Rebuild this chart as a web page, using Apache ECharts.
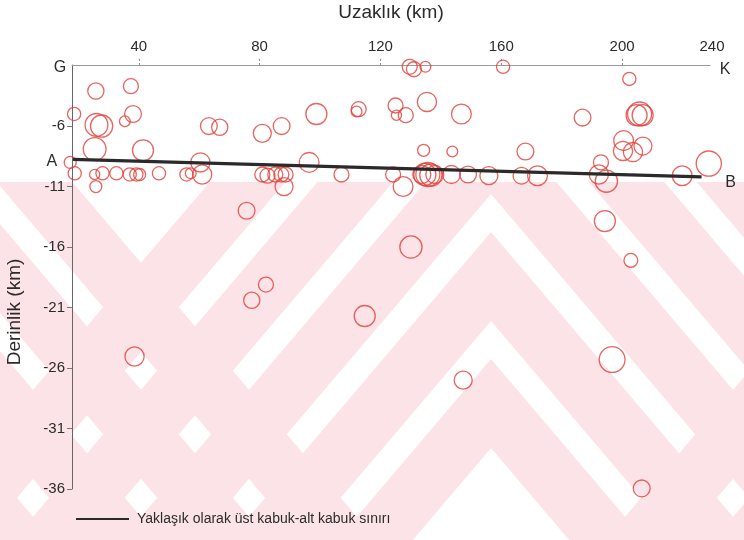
<!DOCTYPE html>
<html>
<head>
<meta charset="utf-8">
<script src="https://cdn.jsdelivr.net/npm/echarts@6/dist/echarts.min.js"></script>
<style>
  html, body { margin: 0; padding: 0; background: #fff; }
  #chart { width: 744px; height: 540px; }
</style>
</head>
<body>
<div id="chart"></div>
<script>
// Hypocentres along the G–K profile: distance (km), depth (km), magnitude
const distance = [
  18.6, 25.8, 37.4, 38.1, 35.4, 26.0, 27.7, 25.4, 41.4, 17.3,
  18.8, 25.4, 28.0, 32.6, 37.0, 39.2, 40.3, 46.7, 55.8, 57.2,
  60.4, 61.0, 25.8,
  63.2, 66.8, 80.9, 87.3, 98.8, 96.4, 80.9, 82.6, 85.2, 87.2,
  88.6, 88.1, 107.1,
  129.7, 131.1, 134.9, 112.8, 112.1, 125.0, 125.3, 128.4, 135.4, 146.8,
  134.3, 143.8, 124.2, 127.5, 133.7, 134.7, 135.7, 136.7, 138.0, 143.5,
  149.0, 155.9, 166.7, 172.0, 160.6, 186.9, 168.0, 193.0, 192.3, 194.8,
  202.4, 204.8, 205.8, 206.8, 200.5, 200.3, 203.6, 206.9, 219.9, 228.7,
  75.7, 194.3, 130.1, 202.9, 82.1, 77.4, 114.8, 38.6, 196.7, 147.4, 206.5
];
const depth = [
  -5.0, -3.1, -2.7, -5.0, -5.6, -5.9, -6.0, -7.9, -8.0, -9.0,
  -9.9, -10.0, -9.9, -9.9, -10.0, -10.0, -10.0, -9.9, -10.0, -9.9,
  -9.0, -10.0, -11.0,
  -6.0, -6.1, -6.6, -6.0, -5.0, -9.0, -10.0, -10.1, -10.0, -10.0,
  -10.0, -11.0, -10.0,
  -1.1, -1.3, -1.1, -4.6, -4.8, -4.3, -5.1, -5.1, -4.0, -5.0,
  -8.0, -8.1, -10.0, -11.0, -10.0, -10.0, -10.0, -10.05, -10.0, -10.0,
  -10.0, -10.1, -10.1, -10.1, -1.1, -5.3, -8.1, -9.0, -10.0, -10.55,
  -2.1, -5.1, -5.0, -5.1, -7.2, -8.05, -8.15, -7.65, -10.1, -9.1,
  -13.0, -13.85, -16.0, -17.1, -19.1, -20.4, -21.7, -25.05, -25.3, -27.0, -35.95
];
const magnitude = [
  2.2, 2.7, 2.5, 2.8, 1.8, 3.8, 3.7, 3.8, 3.5, 2.0,
  2.2, 1.7, 2.2, 2.2, 2.2, 2.2, 2.0, 2.2, 2.2, 1.8,
  3.2, 3.2, 2.0,
  2.8, 2.7, 3.0, 2.8, 3.5, 3.3, 2.5, 2.5, 2.5, 2.5,
  2.5, 3.0, 2.5,
  2.5, 2.5, 1.8, 2.5, 1.8, 2.5, 1.7, 2.5, 3.2, 3.3,
  2.0, 1.8, 2.5, 3.3, 3.0, 3.7, 4.0, 3.7, 3.0, 3.0,
  2.8, 3.0, 2.8, 3.3, 2.2, 2.8, 2.8, 2.5, 3.2, 3.7,
  2.2, 3.5, 4.0, 3.5, 3.3, 3.2, 3.2, 3.0, 3.3, 4.2,
  2.8, 3.5, 3.7, 2.3, 2.5, 2.7, 3.5, 3.2, 4.3, 3.0, 2.8
];

// Approximate upper/lower crust boundary (A → B)
const boundaryDistance = [18.2, 226.3];
const boundaryDepth = [-8.75, -10.2];
const boundaryName = 'Yaklaşık olarak üst kabuk-alt kabuk sınırı';

// Axis extents and tick labels
const xRange = [17.9, 229.1];
const yRange = [-36, -0.95];
const xTicks = [40, 80, 120, 160, 200];
const yTicks = [-36, -31, -26, -21, -16, -11, -6];
const xEndLabel = '240';
const xTitle = 'Uzaklık (km)';
const yTitle = 'Derinlik (km)';

const FONT = '"Liberation Sans", Arial, sans-serif';
const TEXT = '#2b2b2b';

const chart = echarts.init(document.getElementById('chart'), null, { renderer: 'canvas' });

const points = distance.map((d, i) => [d, depth[i], magnitude[i]]);
const boundary = boundaryDistance.map((d, i) => [d, boundaryDepth[i]]);

chart.setOption({
  animation: false,
  backgroundColor: '#ffffff',
  grid: { left: 72, top: 65, right: 34, bottom: 51, outerBoundsMode: 'none', containLabel: false },
  xAxis: {
    type: 'value',
    position: 'top',
    min: xRange[0],
    max: xRange[1],
    name: xTitle,
    nameLocation: 'middle',
    nameGap: 43,
    nameTextStyle: { fontFamily: FONT, fontSize: 19, color: TEXT },
    axisLine: { show: true, lineStyle: { color: '#9a9a9a', width: 1 } },
    axisTick: { show: true, length: 8, customValues: xTicks,
      lineStyle: { color: '#8a8a8a', type: [2, 2] } },
    axisLabel: { customValues: xTicks, margin: 11, fontFamily: FONT, fontSize: 15, color: TEXT },
    splitLine: { show: false }
  },
  yAxis: {
    type: 'value',
    min: yRange[0],
    max: yRange[1],
    axisLine: { show: true, lineStyle: { color: '#666', width: 1 } },
    axisTick: { show: true, length: 5, customValues: yTicks,
      lineStyle: { color: '#777' } },
    axisLabel: { customValues: yTicks, margin: 7, fontFamily: FONT, fontSize: 15, color: TEXT },
    splitLine: { show: false }
  },
  legend: {
    data: [{ name: boundaryName, icon: 'rect' }],
    left: 71,
    top: 507,
    itemWidth: 53,
    itemHeight: 2,
    itemStyle: { color: '#2a2a2a' },
    textStyle: { fontFamily: FONT, fontSize: 14, color: TEXT, padding: [0, 0, 0, 3] }
  },
  series: [
    {
      type: 'scatter',
      name: 'Depremler',
      data: points,
      clip: false,
      symbol: 'circle',
      symbolSize: v => v[2] * 6,
      itemStyle: { color: 'rgba(0,0,0,0)', borderColor: '#e23d37', borderWidth: 1.3 },
      z: 3
    },
    {
      type: 'line',
      name: boundaryName,
      data: boundary,
      symbol: 'none',
      clip: false,
      lineStyle: { color: '#2a2a2a', width: 3.2 },
      itemStyle: { color: '#2a2a2a' },
      z: 4
    }
  ]
});

// Faint page watermark: nested chevrons, repeated sideways, below the upper band
function watermark() {
  const topEdge = 182, floor = 620, slope = 0.85;
  const centres = [-209, 491, 1191];
  const bands = [[448, 359], [321, 232], [194, 105], [67, -22], [-60, -149]];
  // keep the part of a polygon that lies at or below y = topEdge
  const clipBelow = pts => {
    const out = [];
    for (let i = 0; i < pts.length; i++) {
      const p = pts[i], q = pts[(i + 1) % pts.length];
      const pin = p[1] >= topEdge, qin = q[1] >= topEdge;
      if (pin) out.push(p);
      if (pin !== qin) {
        const t = (topEdge - p[1]) / (q[1] - p[1]);
        out.push([p[0] + t * (q[0] - p[0]), topEdge]);
      }
    }
    return out;
  };
  const shapes = [];
  centres.forEach(cx => {
    bands.forEach(([inner, outer]) => {
      const poly = [
        [cx - slope * (floor - outer), floor], [cx, outer], [cx + slope * (floor - outer), floor],
        [cx + slope * (floor - inner), floor], [cx, inner], [cx - slope * (floor - inner), floor]
      ];
      const clipped = clipBelow(poly);
      if (clipped.length > 2) {
        shapes.push({ type: 'polygon', z: -10, silent: true,
          shape: { points: clipped }, style: { fill: '#fce3e7' } });
      }
    });
  });
  return shapes;
}

// Profile end letters, the last distance label and the depth title
function place() {
  const toPx = p => chart.convertToPixel({ gridIndex: 0 }, p);
  const g = toPx([xRange[0], yRange[1]]);
  const k = toPx([xRange[1], yRange[1]]);
  const a = toPx(boundary[0]);
  const b = toPx(boundary[1]);
  const bottom = toPx([xRange[0], yRange[0]]);
  const letter = (txt, x, y) => ({
    type: 'text', x, y,
    style: { text: txt, fontFamily: FONT, fontSize: 16, fill: TEXT,
      align: 'center', verticalAlign: 'middle' }
  });
  chart.setOption({
    graphic: watermark().concat([
      letter('G', g[0] - 12, g[1] + 3),
      letter('K', k[0] + 15, k[1] + 5),
      letter('A', a[0] - 21, a[1] + 2),
      letter('B', b[0] + 29, b[1] + 6),
      { type: 'text', x: k[0] + 2, y: k[1] - 18,
        style: { text: xEndLabel, fontFamily: FONT, fontSize: 15, fill: TEXT,
          align: 'center', verticalAlign: 'middle' } },
      { type: 'text', x: g[0] - 57, y: (g[1] + bottom[1]) / 2 + 35, rotation: Math.PI / 2,
        style: { text: yTitle, fontFamily: FONT, fontSize: 19, fill: TEXT,
          align: 'center', verticalAlign: 'middle' } }
    ])
  });
}
place();
</script>
</body>
</html>
